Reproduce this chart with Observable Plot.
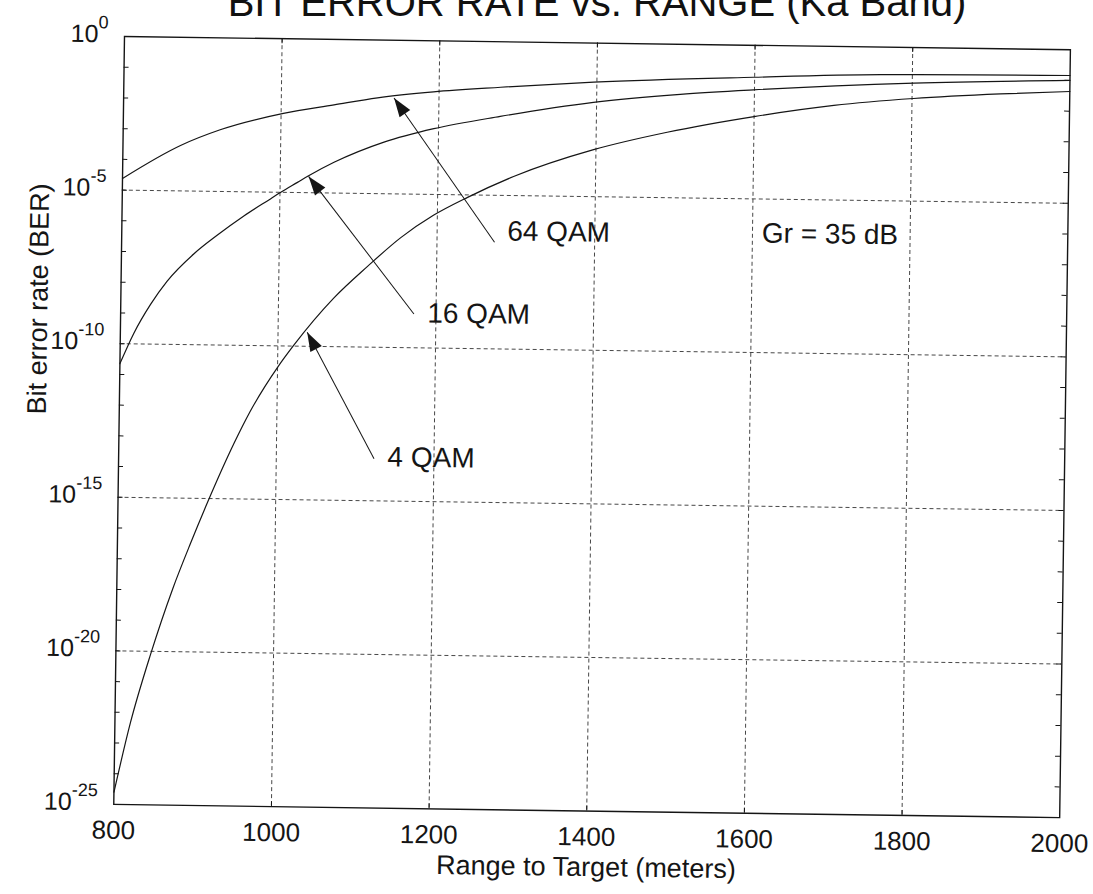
<!DOCTYPE html>
<html>
<head>
<meta charset="utf-8">
<script src="https://cdn.jsdelivr.net/npm/d3@7"></script>
<script src="https://cdn.jsdelivr.net/npm/@observablehq/plot@0.6"></script>
<style>
  html, body { margin: 0; padding: 0; background: #fff; }
  #wrap { position: relative; width: 1093px; height: 894px; overflow: hidden; background: #fff;
          font-family: "Liberation Sans", Arial, sans-serif; }
  #title { position: absolute; left: 597px; top: -18px; transform: translateX(-50%);
           white-space: nowrap; font-size: 40px; line-height: 40px; color: #111; }
  #chart { position: absolute; left: 0; top: 0; }
</style>
</head>
<body>
<div id="wrap">
  <div id="chart"></div>
  <div id="title">BIT ERROR RATE vs. RANGE (Ka Band)</div>
</div>
<script>
// ---- data ----
const qam64X   = [800, 873, 923, 1003, 1067, 1122, 1193, 1278, 1396, 1599, 1760, 2000];
const qam64BER = [2.40e-5, 3.02e-4, 1.02e-3, 3.72e-3, 7.41e-3, 1.32e-2, 2.19e-2, 3.31e-2, 5.37e-2, 9.12e-2, 0.126, 0.145];

const qam16X   = [800, 817, 838, 858, 892, 921, 955, 988, 1001, 1022, 1036, 1068, 1131, 1194, 1278, 1396, 1506, 1599, 1802, 2000];
const qam16BER = [2.24e-11, 2.19e-10, 2.0e-9, 1.10e-8, 9.12e-8, 3.72e-7, 1.66e-6, 6.03e-6, 1.0e-5, 2.14e-5, 3.55e-5, 1.0e-4, 4.79e-4, 1.38e-3, 3.72e-3, 1.17e-2, 2.34e-2, 3.55e-2, 6.92e-2, 0.1];

const qam4X   = [800, 820, 844, 871, 893, 914, 946, 966, 1000, 1020, 1070, 1112, 1154, 1195, 1238, 1296, 1397, 1490, 1600, 1701, 1802, 1912, 2000];
const qam4BER = [2.51e-25, 5.01e-23, 7.94e-21, 1.12e-18, 3.55e-17, 7.94e-16, 6.31e-14, 7.08e-13, 2.0e-11, 1.05e-10, 3.80e-9, 4.17e-8, 3.80e-7, 2.09e-6, 8.32e-6, 4.17e-5, 3.39e-4, 1.35e-3, 4.79e-3, 1.20e-2, 2.19e-2, 3.39e-2, 4.37e-2];

const xTicks = [800, 1000, 1200, 1400, 1600, 1800, 2000];
const yTicks = [1e-25, 1e-20, 1e-15, 1e-10, 1e-5, 1];
const xGrid = [1000, 1200, 1400, 1600, 1800];
const yGrid = [1e-20, 1e-15, 1e-10, 1e-5];
const yDecades = [1e-24, 1e-23, 1e-22, 1e-21, 1e-20, 1e-19, 1e-18, 1e-17, 1e-16, 1e-15, 1e-14, 1e-13,
                  1e-12, 1e-11, 1e-10, 1e-9, 1e-8, 1e-7, 1e-6, 1e-5, 1e-4, 1e-3, 1e-2, 1e-1];

const noteText = ["64 QAM", "16 QAM", "4 QAM", "Gr = 35 dB"];
const noteX    = [1289, 1189, 1141, 1612];
const noteY    = [6.76e-7, 1.32e-9, 2.63e-14, 7.59e-7];

const arrowTailX = [1273, 1172, 1124];
const arrowTailY = [2.95e-7, 1.26e-9, 2.34e-14];
const arrowTipX  = [1143, 1036, 1037];
const arrowTipY  = [1.32e-2, 3.39e-5, 2.88e-10];

const xLabel = "Range to Target (meters)";
const yLabel = "Bit error rate (BER)";

// ---- build tables ----
const rows = [
  ...qam64X.map((d, i) => ({series: "64 QAM", x: d, ber: qam64BER[i]})),
  ...qam16X.map((d, i) => ({series: "16 QAM", x: d, ber: qam16BER[i]})),
  ...qam4X.map((d, i) => ({series: "4 QAM", x: d, ber: qam4BER[i]}))
];
const notes = noteText.map((t, i) => ({t, x: noteX[i], y: noteY[i]}));

const W = 1093, H = 894, mL = 124, mR = 23, mT = 36, mB = 90;
// screen-space helpers only used to orient the arrow heads
const sx = d3.scaleLinear().domain([800, 2000]).range([mL, W - mR]);
const sy = d3.scaleLog().domain([1e-25, 1]).range([H - mB, mT]);
const arrows = arrowTailX.map((_, i) => {
  const dx = sx(arrowTipX[i]) - sx(arrowTailX[i]);
  const dy = sy(arrowTipY[i]) - sy(arrowTailY[i]);
  return {x1: arrowTailX[i], y1: arrowTailY[i], x2: arrowTipX[i], y2: arrowTipY[i],
          angle: Math.atan2(dx, -dy) * 180 / Math.PI};
});

const arrowHead = {
  draw(context) {
    context.moveTo(0, 0);
    context.lineTo(-6.5, 19);
    context.lineTo(6.5, 19);
    context.closePath();
  }
};

const ink = "#151515";
const plot = Plot.plot({
  width: W, height: H,
  marginLeft: mL, marginRight: mR, marginTop: mT, marginBottom: mB,
  style: {fontFamily: '"Liberation Sans", Arial, sans-serif', background: "transparent", color: ink},
  x: {domain: [800, 2000]},
  y: {type: "log", domain: [1e-25, 1]},
  marks: [
    Plot.ruleX(xGrid, {x: d => d, stroke: "#333", strokeWidth: 0.9, strokeDasharray: "4,3"}),
    Plot.ruleY(yGrid, {y: d => d, stroke: "#333", strokeWidth: 0.9, strokeDasharray: "4,3"}),
    Plot.tickY(yDecades, {y: d => d, insetRight: 941, stroke: ink, strokeWidth: 1}),
    Plot.tickY(yDecades, {y: d => d, insetLeft: 941, stroke: ink, strokeWidth: 1}),
    Plot.tickX(xGrid, {x: d => d, insetTop: 763, stroke: ink, strokeWidth: 1}),
    Plot.tickX(xGrid, {x: d => d, insetBottom: 763, stroke: ink, strokeWidth: 1}),
    Plot.frame({stroke: ink, strokeWidth: 1.4}),
    Plot.line(rows, {x: "x", y: "ber", z: "series", stroke: ink, strokeWidth: 1.2, curve: "monotone-x"}),
    Plot.link(arrows, {x1: "x1", y1: "y1", x2: "x2", y2: "y2", stroke: ink, strokeWidth: 1}),
    Plot.dot(arrows, {x: "x2", y: "y2", symbol: arrowHead, rotate: "angle", fill: ink, stroke: null, r: 5}),
    Plot.text(notes, {x: "x", y: "y", text: "t", textAnchor: "start", fontSize: 28, fill: ink}),
    Plot.axisX(xTicks, {tickFormat: d => String(d), tickSize: 0, tickPadding: 16, fontSize: 26, label: null, fill: ink}),
    Plot.axisY(yTicks, {tickFormat: d => "10^" + Math.round(Math.log10(d)), tickSize: 0, tickPadding: 16,
                        fontSize: 25, label: null, dy: -2, fill: ink}),
    Plot.text([xLabel], {frameAnchor: "bottom", dy: 65, text: d => d, fontSize: 27, fill: ink}),
    Plot.text([yLabel], {frameAnchor: "left", dx: -82, dy: -5, rotate: -90, text: d => d, fontSize: 27, fill: ink})
  ]
});

// superscript exponents on the y tick labels
const ns = "http://www.w3.org/2000/svg";
plot.querySelectorAll('g[aria-label="y-axis tick label"] text').forEach(t => {
  const parts = t.textContent.split("^");
  if (parts.length !== 2) return;
  t.textContent = "";
  const b = document.createElementNS(ns, "tspan");
  b.textContent = parts[0];
  const e = document.createElementNS(ns, "tspan");
  e.setAttribute("dy", "-14");
  e.setAttribute("font-size", "18");
  e.textContent = parts[1];
  t.appendChild(b);
  t.appendChild(e);
});

// the scanned original is tilted slightly clockwise
plot.style.transformOrigin = mL + "px " + mT + "px";
plot.style.transform = "rotate(0.8deg)";
plot.style.overflow = "visible";
document.getElementById("chart").appendChild(plot);
</script>
</body>
</html>
